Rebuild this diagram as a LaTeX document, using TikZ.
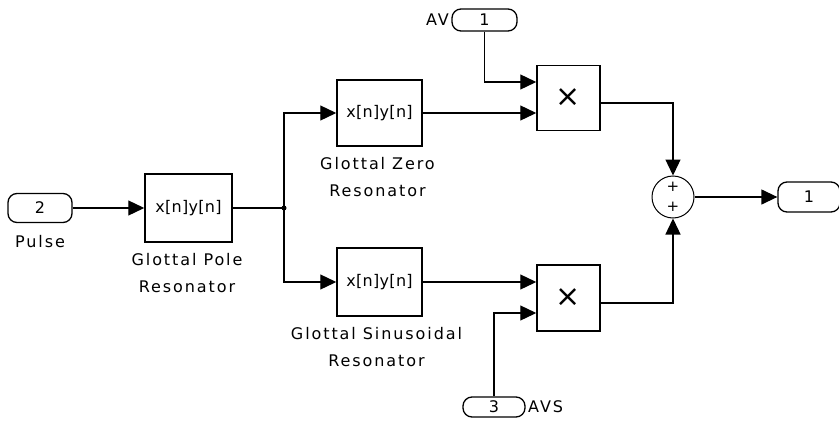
\documentclass[tikz,border=0pt]{standalone}
\usepackage{fontspec}
\usetikzlibrary{arrows.meta}
\newfontfamily\lblfont{DejaVu Sans}[LetterSpace=12]
\newfontfamily\blkfont{DejaVu Sans}[LetterSpace=2]
\newfontfamily\symfont{DejaVu Sans}
\tikzset{
  blk/.style={draw, line width=1.5pt, inner sep=0pt, font=\blkfont\fontsize{16}{18}\selectfont},
  port/.style={draw, line width=1.3pt, rounded corners=9pt, inner sep=0pt, font=\lblfont\fontsize{16}{18}\selectfont},
  lbl/.style={inner sep=0pt, align=center, font=\lblfont\fontsize{16}{27}\selectfont},
  wire/.style={line width=1.3pt},
  arr/.style={wire, -{Triangle[length=16pt,width=15pt]}},
  prodblk/.style={blk, minimum width=63pt, minimum height=65pt, font=\symfont\fontsize{30}{32}\selectfont},
}
\begin{document}
\begin{tikzpicture}[x=1pt,y=-1pt]
\useasboundingbox (0,0) rectangle (839,423);
% ports
\node[port, minimum width=64pt, minimum height=29pt] (in2) at (40,208) {2};
\node[lbl] (pulse) at (40,242) {Pulse};
\node[port, minimum width=65pt, minimum height=22pt] (av) at (484.5,20) {1};
\node[lbl, anchor=east] (avlbl) at (449,20) {AV};
\node[port, minimum width=62pt, minimum height=20pt] (avs) at (494,407) {3};
\node[lbl, anchor=west] (avslbl) at (528,407) {AVS};
\node[port, minimum width=62pt, minimum height=30pt] (out) at (809,197) {1};
% blocks
\node[blk, minimum width=87pt, minimum height=68pt] (pole) at (188.5,208) {x[n]y[n]};
\node[lbl] (polelbl) at (187,273.5) {Glottal Pole\\Resonator};
\node[blk, minimum width=85pt, minimum height=66pt] (zero) at (379.5,113) {x[n]y[n]};
\node[lbl] (zerolbl) at (377.5,177.5) {Glottal Zero\\Resonator};
\node[blk, minimum width=85pt, minimum height=68pt] (sin) at (379.5,282) {x[n]y[n]};
\node[lbl] (sinlbl) at (376.5,347) {Glottal Sinusoidal\\Resonator};
\node[prodblk] (prod1) at (568.5,98) {×};
\node[prodblk, minimum height=66pt] (prod2) at (568.5,298) {×};
% sum
\node[draw, circle, line width=1pt, minimum size=42pt, inner sep=0pt] (sum) at (673,197) {};
\node[inner sep=0pt, font=\symfont\fontsize{15}{15}\selectfont] (plus1) at (673,187) {+};
\node[inner sep=0pt, font=\symfont\fontsize{15}{15}\selectfont] (plus2) at (673,207) {+};
% branch
\coordinate (br) at (284,208);
\fill (br) circle (2.5pt);
% wires
\draw[arr] (in2.east) -- (pole.west);
\draw[wire] (pole.east) -- (br);
\draw[arr] (br) |- (zero.west);
\draw[arr] (br) |- (sin.west);
\draw[arr] (av.south) |- ([yshift=16pt]prod1.west);
\draw[arr] (zero.east) -- ([yshift=-15pt]prod1.west);
\draw[arr] (sin.east) -- ([yshift=16pt]prod2.west);
\draw[arr] (avs.north) |- ([yshift=-15pt]prod2.west);
\draw[arr] ([yshift=-5pt]prod1.east) -| (sum.north);
\draw[arr] ([yshift=-5pt]prod2.east) -| (sum.south);
\draw[arr] (sum.east) -- (out.west);
\end{tikzpicture}
\end{document}
